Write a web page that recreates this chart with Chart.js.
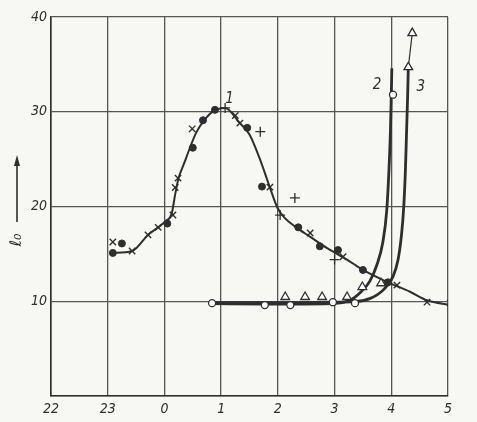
<!DOCTYPE html>
<html><head><meta charset="utf-8">
<script src="https://cdn.jsdelivr.net/npm/chart.js@4"></script>
<style>
html,body{margin:0;padding:0;background:#f7f7f4;}
#wrap{width:477px;height:422px;position:relative;}
</style></head>
<body><div id="wrap"><canvas id="c" width="477" height="422"></canvas></div>
<script>
// x in hours (22 .. 29, where 24 = 0 h, 29 = 5 h)
const curve1X = [23.09,23.43,23.71,23.89,24.01,24.13,24.19,24.25,24.35,24.45,24.56,24.70,24.87,25.07,25.33,25.50,25.69,25.86,25.99,26.12,26.30,26.57,26.87,27.22,27.50,27.94,28.33,28.63,29.04];
const curve1Y = [15.1,15.3,17.0,17.8,18.4,19.3,21.3,23.0,24.6,26.2,27.8,29.1,30.1,30.4,28.8,27.6,24.9,22.0,19.9,18.8,17.9,16.8,15.6,14.4,13.3,12.0,11.0,10.1,9.6];

const curve2X = [24.84,25.77,26.22,26.97,27.27,27.45,27.62,27.75,27.85,27.92,27.96,27.985,28.00,28.01];
const curve2Y = [9.75,9.7,9.7,9.75,10.1,10.9,12.1,13.9,16.2,19.6,24.0,28.0,31.8,34.6];

const curve3X = [24.84,25.77,26.22,26.97,27.36,27.63,27.86,28.03,28.12,28.18,28.22,28.25,28.27,28.29,28.30];
const curve3Y = [9.85,9.85,9.85,9.9,9.95,10.3,11.2,12.6,14.4,17.0,20.0,24.0,28.0,32.0,34.7];

const tailX = [28.30,28.37];
const tailY = [34.7,38.3];

const crossX = [23.09,23.43,23.71,23.89,24.15,24.19,24.24,24.49,25.25,25.33,25.86,26.57,27.15,28.10,28.63,29.04];
const crossY = [16.25,15.3,17.0,17.8,19.1,22.0,23.0,28.2,29.6,28.8,22.05,17.2,14.7,11.7,9.9,9.8];

const dotX = [23.09,23.25,24.05,24.50,24.68,24.89,25.46,25.72,26.36,26.74,27.06,27.50,27.94];
const dotY = [15.1,16.1,18.2,26.2,29.1,30.2,28.3,22.1,17.8,15.8,15.4,13.3,12.0];

const plusX = [25.07,25.69,26.30,26.04,27.00];
const plusY = [30.4,27.9,20.9,19.1,14.4];

const openX = [24.84,25.77,26.22,26.97,27.36,28.03];
const openY = [9.8,9.6,9.6,9.9,9.8,31.8];

const triX = [26.13,26.48,26.78,27.22,27.49,27.82,28.30,28.37];
const triY = [10.45,10.45,10.45,10.45,11.5,11.9,34.7,38.3];

const xTickLabels = {22:'22',23:'23',24:'0',25:'1',26:'2',27:'3',28:'4',29:'5'};
const yTicks = [10,20,30,40];

const pts = (xs, ys) => xs.map((x,i)=>({x:x,y:ys[i]}));
const ink = '#2e2e2e';
const font = {family:'"DejaVu Sans Condensed", "DejaVu Sans", sans-serif', size:14, style:'italic'};

const lineDs = (xs, ys, w) => ({type:'line', data:pts(xs,ys), borderColor:ink, borderWidth:w, pointRadius:0, fill:false, cubicInterpolationMode:'monotone', order:2});
const markDs = (xs, ys, style, r, bg, bw) => ({type:'scatter', data:pts(xs,ys), pointStyle:style, pointRadius:r, pointBackgroundColor:bg, pointBorderColor:ink, pointBorderWidth:bw, showLine:false, order:1});

const annot = {
  id:'annot',
  afterDraw(chart){
    const ctx = chart.ctx, xs = chart.scales.x, ys = chart.scales.y;
    ctx.save();
    ctx.fillStyle = ink;
    ctx.font = 'italic 15px "DejaVu Sans Condensed", "DejaVu Sans", sans-serif';
    ctx.textAlign='center'; ctx.textBaseline='middle';
    ctx.fillText('1', xs.getPixelForValue(25.15), ys.getPixelForValue(31.3));
    ctx.fillText('2', xs.getPixelForValue(27.75), ys.getPixelForValue(32.8));
    ctx.fillText('3', xs.getPixelForValue(28.52), ys.getPixelForValue(32.6));
    ctx.font = 'italic 13px "DejaVu Sans Condensed", "DejaVu Sans", sans-serif';
    ctx.textAlign='left';
    ctx.fillText('час', xs.getPixelForValue(29)+5, xs.bottom+13);
    // y axis label with arrow
    const ax = 17;
    ctx.strokeStyle = ink; ctx.lineWidth = 1.6;
    ctx.beginPath(); ctx.moveTo(ax, 222); ctx.lineTo(ax, 162); ctx.stroke();
    ctx.beginPath(); ctx.moveTo(ax, 155); ctx.lineTo(ax-3, 166); ctx.lineTo(ax+3, 166); ctx.closePath(); ctx.fill();
    ctx.translate(ax, 240); ctx.rotate(-Math.PI/2);
    ctx.textAlign='center';
    ctx.font = 'italic 16px "DejaVu Sans", sans-serif';
    ctx.fillText('ℓ₀', 0, 0);
    ctx.restore();
  }
};

new Chart(document.getElementById('c'), {
  data:{datasets:[
    lineDs(curve1X, curve1Y, 2),
    lineDs(curve2X, curve2Y, 2.8),
    lineDs(curve3X, curve3Y, 2.8),
    lineDs(tailX, tailY, 1.2),
    markDs(crossX, crossY, 'crossRot', 4.5, ink, 1.4),
    markDs(dotX, dotY, 'circle', 3.5, ink, 1),
    markDs(plusX, plusY, 'cross', 5, ink, 1.3),
    markDs(openX, openY, 'circle', 3.5, '#ffffff', 1.3),
    markDs(triX, triY, 'triangle', 5, '#ffffff', 1.3)
  ]},
  options:{
    responsive:false, animation:false,
    layout:{padding:{top:17, right:29, left:0, bottom:0}},
    plugins:{legend:{display:false}, tooltip:{enabled:false}},
    scales:{
      x:{type:'linear', min:22, max:29,
        afterFit(s){ s.height = 26; },
        afterBuildTicks(s){ s.ticks = Object.keys(xTickLabels).map(v=>({value:+v})); },
        ticks:{color:ink, font:font, padding:5, maxRotation:0, callback:v=>xTickLabels[v]},
        grid:{color:'#555', lineWidth:1.3, drawTicks:false},
        border:{color:ink, width:1.6}},
      y:{type:'linear', min:0, max:40,
        afterFit(s){ s.width = 51; },
        afterBuildTicks(s){ s.ticks = [0].concat(yTicks).map(v=>({value:v})); },
        ticks:{color:ink, font:font, padding:4, callback:v=> v===0 ? '' : String(v)},
        grid:{color:'#555', lineWidth:1.3, drawTicks:false},
        border:{color:ink, width:1.6}}
    }
  },
  plugins:[annot]
});
</script></body></html>
